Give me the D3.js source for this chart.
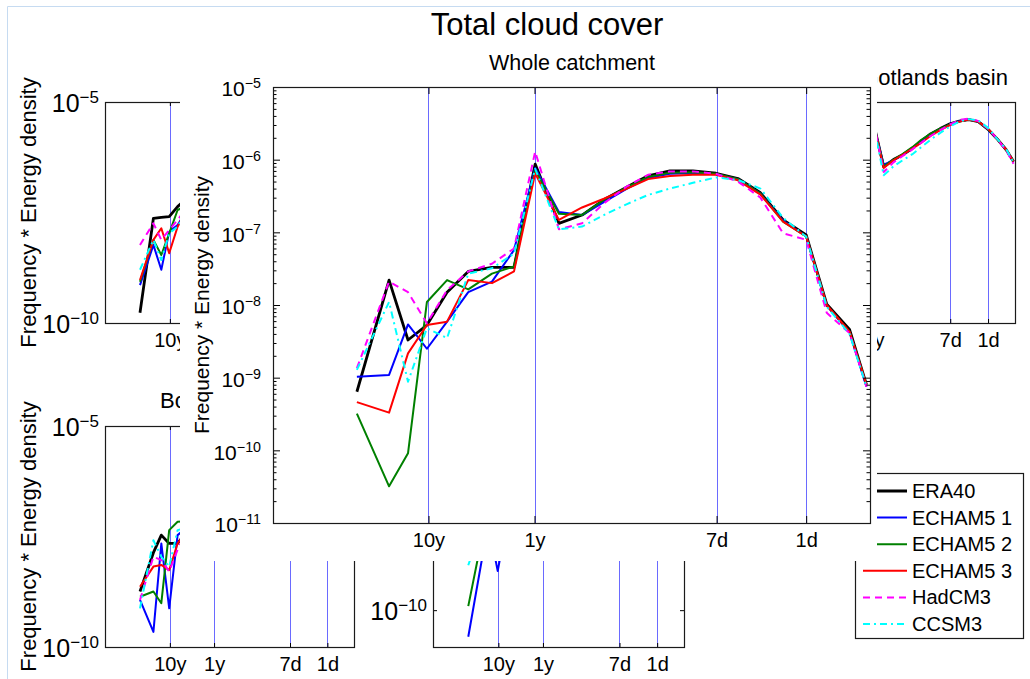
<!DOCTYPE html>
<html>
<head>
<meta charset="utf-8">
<script src="https://cdn.jsdelivr.net/npm/d3@7"></script>
<style>
  body { margin: 0; background: #fff; }
  svg { display: block; }
</style>
</head>
<body>
<div id="app"></div>
<script>
'use strict'

// ---- data -------------------------------------------------------------
const seriesNames = ['ERA40', 'ECHAM5 1', 'ECHAM5 2', 'ECHAM5 3', 'HadCM3', 'CCSM3']

// band periods in days (x axis is drawn as log period, long periods to the left)
const periods = [17300, 8600, 5700, 3780, 2440, 1540, 920, 570, 360, 215, 130, 81,
  49, 31, 19.3, 11.7, 7.1, 4.4, 2.7, 1.65, 1.0, 0.64, 0.39, 0.27]

const markPeriods = [3652.5, 365.25, 7, 1]
const markLabels = ['10y', '1y', '7d', '1d']

// Whole catchment, one row per series (same order as seriesNames)
const wholeCatchment = [
  [6.4e-10, 2.2e-8, 3.3e-9, 5.3e-9, 1.5e-8, 2.9e-8, 3.3e-8, 3.3e-8, 8.7e-7, 1.33e-7, 1.73e-7, 2.8e-7,
    4.2e-7, 6.0e-7, 7.0e-7, 7.0e-7, 6.5e-7, 5.5e-7, 3.5e-7, 1.48e-7, 9.2e-8, 1.03e-8, 4.6e-9, 8.0e-10],
  [1.03e-9, 1.09e-9, 5.4e-9, 2.5e-9, 5.9e-9, 1.5e-8, 2.1e-8, 5.7e-8, 7.7e-7, 1.9e-7, 1.73e-7, 2.6e-7,
    4.0e-7, 5.6e-7, 6.4e-7, 6.5e-7, 6.3e-7, 5.4e-7, 3.4e-7, 1.45e-7, 8.8e-8, 9.8e-9, 4.2e-9, 7.5e-10],
  [3.2e-10, 3.2e-11, 9.1e-11, 1.1e-8, 2.2e-8, 1.64e-8, 2.7e-8, 3.4e-8, 7.2e-7, 1.8e-7, 1.73e-7, 2.8e-7,
    4.2e-7, 5.8e-7, 6.6e-7, 6.7e-7, 6.4e-7, 5.4e-7, 3.4e-7, 1.4e-7, 8.8e-8, 9.8e-9, 4.3e-9, 8.0e-10],
  [4.6e-10, 3.3e-10, 2.16e-9, 5.3e-9, 5.9e-9, 2.2e-8, 2.0e-8, 2.9e-8, 6.5e-7, 1.48e-7, 2.2e-7, 2.9e-7,
    4.0e-7, 5.4e-7, 5.96e-7, 6.2e-7, 6.2e-7, 5.2e-7, 3.3e-7, 1.4e-7, 8.8e-8, 1.0e-8, 4.3e-9, 8.0e-10],
  [1.35e-9, 2.1e-8, 1.5e-8, 5.6e-9, 1.6e-8, 2.9e-8, 3.7e-8, 6.0e-8, 1.29e-6, 1.1e-7, 1.33e-7, 2.5e-7,
    4.3e-7, 6.2e-7, 6.9e-7, 6.9e-7, 6.4e-7, 5.0e-7, 3.0e-7, 9.7e-8, 7.9e-8, 7.8e-9, 4.1e-9, 7.5e-10],
  [1.28e-9, 1.1e-8, 8.8e-10, 4.8e-9, 3.5e-9, 2.7e-8, 3.2e-8, 5.1e-8, 7.5e-7, 1.1e-7, 1.2e-7, 1.73e-7,
    2.45e-7, 3.27e-7, 4.0e-7, 4.8e-7, 5.7e-7, 5.25e-7, 4.0e-7, 1.58e-7, 8.7e-8, 9.5e-9, 4.0e-9, 7.5e-10]
]

// background panels: only the uncovered bands are kept
const topLeftFirst = 0
const topLeft = [
  [1.7e-10, 2.34e-8, 2.45e-8, 2.54e-8, 4.3e-8, 6.5e-8],
  [7.2e-10, 5.8e-9, 1.6e-9, 1.16e-8, 1.65e-8, 3.5e-8],
  [8.6e-10, 7.6e-9, 3.45e-9, 1.07e-8, 3.6e-8, 4.5e-8],
  [9.4e-10, 7.6e-9, 1.39e-8, 3.8e-9, 1.51e-8, 3.5e-8],
  [5.8e-9, 1.8e-8, 7.6e-9, 1.27e-8, 2.14e-8, 4.0e-8],
  [1.6e-9, 7.6e-9, 2.66e-9, 1.07e-8, 1.51e-8, 3.5e-8]
]

const gotlandsFirst = 8
const gotlands = [
  [3.2e-6, 3.4e-7, 5.0e-7, 6.4e-7, 9.0e-7, 1.3e-6, 1.9e-6, 2.5e-6, 3.2e-6, 3.7e-6, 4.0e-6, 3.6e-6, 2.4e-6, 1.5e-6, 8.2e-7, 4.5e-7],
  [3.0e-6, 3.8e-7, 4.8e-7, 6.3e-7, 9.0e-7, 1.3e-6, 1.8e-6, 2.4e-6, 3.1e-6, 3.7e-6, 4.0e-6, 3.6e-6, 2.4e-6, 1.5e-6, 8.2e-7, 4.4e-7],
  [3.0e-6, 3.5e-7, 4.9e-7, 6.6e-7, 9.5e-7, 1.4e-6, 1.9e-6, 2.5e-6, 3.1e-6, 3.6e-6, 4.0e-6, 3.6e-6, 2.4e-6, 1.5e-6, 8.2e-7, 4.5e-7],
  [3.1e-6, 3.2e-7, 4.8e-7, 6.4e-7, 8.8e-7, 1.2e-6, 1.7e-6, 2.3e-6, 3.0e-6, 3.6e-6, 4.0e-6, 3.6e-6, 2.5e-6, 1.5e-6, 8.2e-7, 4.5e-7],
  [3.4e-6, 2.6e-7, 4.3e-7, 6.0e-7, 8.5e-7, 1.2e-6, 1.7e-6, 2.3e-6, 3.1e-6, 3.9e-6, 4.2e-6, 3.7e-6, 2.5e-6, 1.5e-6, 8.0e-7, 4.0e-7],
  [3.0e-6, 2.2e-7, 3.5e-7, 4.8e-7, 6.6e-7, 9.5e-7, 1.4e-6, 2.0e-6, 2.8e-6, 3.6e-6, 4.1e-6, 3.8e-6, 2.6e-6, 1.5e-6, 8.5e-7, 4.3e-7]
]

const bothnianFirst = 0
const bothnian = [
  [1.8e-9, 1.36e-8, 3.4e-8, 2.2e-8, 2.2e-8, 4.0e-8],
  [1.16e-9, 2.2e-10, 2.2e-8, 7.5e-10, 3.4e-8, 5.0e-8],
  [1.37e-9, 1.8e-9, 9.8e-10, 4.4e-8, 6.8e-8, 7.0e-8],
  [2.3e-9, 6.6e-9, 7.2e-9, 5.5e-9, 2.2e-8, 4.0e-8],
  [1.16e-9, 1.1e-8, 9.3e-9, 5.1e-9, 1.6e-8, 4.0e-8],
  [7.5e-10, 2.6e-8, 1.1e-8, 6.6e-9, 4.4e-8, 5.0e-8]
]

const bottomMidFirst = 0
const bottomMid = [
  [6.0e-9, 2.5e-8, 1.0e-8, 1.5e-8, 3.0e-8],
  [1.9e-11, 2.3e-9, 1.5e-8, 1.15e-9, 2.0e-8],
  [1.29e-10, 8.7e-9, 1.5e-8, 2.0e-8, 3.0e-8],
  [5.0e-9, 1.0e-8, 1.2e-8, 1.5e-8, 2.5e-8],
  [8.0e-9, 2.0e-8, 1.5e-8, 1.0e-8, 2.0e-8],
  [1.66e-9, 2.0e-8, 6.0e-9, 1.0e-8, 2.0e-8]
]

// ---- styles -----------------------------------------------------------
const font = '"Liberation Sans", Arial, Helvetica, sans-serif'
const markColor = '#6a6aff'
const seriesStyle = [
  { color: '#000000', width: 2.8, dash: null },
  { color: '#0000ff', width: 2, dash: null },
  { color: '#008000', width: 2, dash: null },
  { color: '#ff0000', width: 2, dash: null },
  { color: '#ff00ff', width: 2, dash: '7,5' },
  { color: '#00ffff', width: 2, dash: '7,4,2,4' }
]
const periodDomain = [1.07e5, 0.25]

const svg = d3.select('#app').append('svg')
  .attr('width', 1030)
  .attr('height', 679)
  .style('font-family', font)

// window frame
svg.append('path')
  .attr('d', 'M7.5,679V6.5H1030')
  .attr('fill', 'none')
  .attr('stroke', '#c6dbf1')

let clipId = 0

/*
 * One MATLAB-like axes: white box, blue marker lines, the six spectra,
 * log axes with "10^n" labels.
 */
function drawPanel (box, yDomain, yTicks, data, first, opt) {
  const x = d3.scaleLog().domain(periodDomain).range([box.left, box.right])
  const y = d3.scaleLog().domain(yDomain).range([box.bottom, box.top])
  const g = svg.append('g')
  const w = box.right - box.left
  const h = box.bottom - box.top

  g.append('rect')
    .attr('x', box.left).attr('y', box.top)
    .attr('width', w).attr('height', h)
    .attr('fill', '#fff')

  const id = 'clip' + (clipId++)
  g.append('clipPath').attr('id', id)
    .append('rect')
    .attr('x', box.left).attr('y', box.top)
    .attr('width', w).attr('height', h)

  g.selectAll('.mark')
    .data(markPeriods)
    .join('line')
    .attr('class', 'mark')
    .attr('x1', d => Math.round(x(d)) + 0.5)
    .attr('x2', d => Math.round(x(d)) + 0.5)
    .attr('y1', box.top)
    .attr('y2', box.bottom)
    .attr('stroke', markColor)
    .attr('stroke-width', 1)

  const line = d3.line()
    .x((d, i) => x(periods[first + i]))
    .y(d => y(d))

  g.append('g')
    .attr('clip-path', `url(#${id})`)
    .selectAll('path')
    .data(data)
    .join('path')
    .attr('d', line)
    .attr('fill', 'none')
    .attr('stroke', (d, i) => seriesStyle[i].color)
    .attr('stroke-width', (d, i) => seriesStyle[i].width)
    .attr('stroke-dasharray', (d, i) => seriesStyle[i].dash)
    .attr('stroke-linejoin', 'round')

  // x axis (bottom with labels, top ticks only)
  g.append('g')
    .attr('transform', `translate(0,${box.bottom})`)
    .call(d3.axisBottom(x).tickValues(markPeriods)
      .tickFormat((d, i) => markLabels[i])
      .tickSizeInner(-opt.tick).tickSizeOuter(0).tickPadding(opt.xPad))
    .call(s => s.select('.domain').remove())
    .attr('font-family', font)
    .attr('font-size', opt.xFont)
    .selectAll('text').attr('fill', '#000')

  g.append('g')
    .attr('transform', `translate(0,${box.top})`)
    .call(d3.axisTop(x).tickValues(markPeriods).tickFormat('')
      .tickSizeInner(-opt.tick).tickSizeOuter(0))
    .call(s => s.select('.domain').remove())

  // y axis: decades with labels, optional minor ticks
  const yl = g.append('g')
    .attr('transform', `translate(${box.left},0)`)
    .call(d3.axisLeft(y).tickValues(yTicks)
      .tickSizeInner(-opt.tick).tickSizeOuter(0).tickPadding(opt.yPad))
    .call(s => s.select('.domain').remove())
    .attr('font-family', font)
    .attr('font-size', opt.yFont)

  yl.selectAll('.tick text').each(function (d) {
    const t = d3.select(this).text(null).attr('fill', '#000').attr('dy', opt.yDy)
    t.append('tspan').text('10')
    t.append('tspan')
      .attr('dy', '-0.55em')
      .attr('font-size', '0.68em')
      .text('\u2212' + Math.round(-Math.log10(d)))
  })

  g.append('g')
    .attr('transform', `translate(${box.right},0)`)
    .call(d3.axisRight(y).tickValues(yTicks).tickFormat('')
      .tickSizeInner(-opt.tick).tickSizeOuter(0))
    .call(s => s.select('.domain').remove())

  if (opt.minor) {
    const lo = Math.round(Math.log10(yDomain[0]))
    const hi = Math.round(Math.log10(yDomain[1]))
    const minor = []
    for (let e = lo; e < hi; e++) {
      for (let m = 2; m <= 9; m++) minor.push(m * Math.pow(10, e))
    }
    g.append('g')
      .attr('transform', `translate(${box.left},0)`)
      .call(d3.axisLeft(y).tickValues(minor).tickFormat('')
        .tickSizeInner(-opt.tick / 2).tickSizeOuter(0))
      .call(s => s.select('.domain').remove())
    g.append('g')
      .attr('transform', `translate(${box.right},0)`)
      .call(d3.axisRight(y).tickValues(minor).tickFormat('')
        .tickSizeInner(-opt.tick / 2).tickSizeOuter(0))
      .call(s => s.select('.domain').remove())
  }

  // axes box
  g.append('rect')
    .attr('x', box.left + 0.5).attr('y', box.top + 0.5)
    .attr('width', w).attr('height', h)
    .attr('fill', 'none')
    .attr('stroke', '#1a1a1a')
    .attr('stroke-width', 1.2)

  if (opt.ylabel) {
    g.append('text')
      .attr('transform', `translate(${opt.ylabel.x},${(box.top + box.bottom) / 2}) rotate(-90)`)
      .attr('text-anchor', 'middle')
      .attr('font-size', opt.ylabel.size)
      .text('Frequency * Energy density')
  }
  if (opt.title) {
    // the title is cut where the main axes covers it
    const tg = g.append('g')
    if (opt.title.clip) {
      const tid = 'clip' + (clipId++)
      tg.append('clipPath').attr('id', tid)
        .append('rect')
        .attr('x', opt.title.clip[0]).attr('y', opt.title.y - 30)
        .attr('width', opt.title.clip[1] - opt.title.clip[0]).attr('height', 40)
      tg.attr('clip-path', `url(#${tid})`)
    }
    tg.append('text')
      .attr('x', opt.title.x).attr('y', opt.title.y)
      .attr('text-anchor', opt.title.anchor)
      .attr('font-size', opt.title.size)
      .text(opt.title.text)
  }
  return g
}

const smallOpt = { tick: 4, xPad: 10, xFont: 20, yPad: 6, yFont: 25, yDy: '0.38em', minor: false }

// ---- background sub-panels --------------------------------------------
drawPanel({ left: 105, right: 354, top: 102, bottom: 323 }, [1e-10, 1e-5], [1e-10, 1e-5],
  topLeft, topLeftFirst,
  Object.assign({}, smallOpt, { ylabel: { x: 36, size: 22 } }))

drawPanel({ left: 763, right: 1015, top: 102, bottom: 323 }, [1e-10, 1e-5], [1e-10, 1e-5],
  gotlands, gotlandsFirst,
  Object.assign({}, smallOpt, {
    title: { text: 'Gotlands basin', x: 1008, y: 85, anchor: 'end', size: 22, clip: [877, 1030] }
  }))

drawPanel({ left: 105, right: 354, top: 426, bottom: 647 }, [1e-10, 1e-5], [1e-10, 1e-5],
  bothnian, bothnianFirst,
  Object.assign({}, smallOpt, {
    ylabel: { x: 36, size: 22 },
    title: { text: 'Bothnian Bay', x: 160, y: 408, anchor: 'start', size: 22, clip: [100, 180] }
  }))

drawPanel({ left: 433, right: 684, top: 426, bottom: 647 }, [1e-11, 1e-5], [1e-10, 1e-5],
  bottomMid, bottomMidFirst, smallOpt)

// legend (belongs to the background figure, partly hidden)
const legend = svg.append('g')
legend.append('rect')
  .attr('x', 855.5).attr('y', 473.5)
  .attr('width', 168).attr('height', 165)
  .attr('fill', '#fff')
  .attr('stroke', '#1a1a1a')
  .attr('stroke-width', 1.2)
const legendRow = d3.scaleLinear().domain([0, 5]).range([491, 624])
const entries = legend.selectAll('.entry')
  .data(seriesNames)
  .join('g')
  .attr('transform', (d, i) => `translate(0,${legendRow(i)})`)
entries.append('line')
  .attr('x1', 863).attr('x2', 907)
  .attr('stroke', (d, i) => seriesStyle[i].color)
  .attr('stroke-width', (d, i) => seriesStyle[i].width)
  .attr('stroke-dasharray', (d, i) => seriesStyle[i].dash)
entries.append('text')
  .attr('x', 912)
  .attr('dy', '0.35em')
  .attr('font-size', 20)
  .text(d => d)

// ---- the main axes lies on top and hides the middle of the figure ------
svg.append('rect')
  .attr('x', 180).attr('y', 45)
  .attr('width', 697).attr('height', 516)
  .attr('fill', '#fff')

drawPanel({ left: 273, right: 870, top: 87, bottom: 523 }, [1e-11, 1e-5],
  d3.range(-11, -4).map(e => Math.pow(10, e)),
  wholeCatchment, 0,
  {
    tick: 7, xPad: 10, xFont: 20, yPad: 12, yFont: 21, yDy: '0.42em', minor: true,
    ylabel: { x: 209, size: 21 },
    title: { text: 'Whole catchment', x: 572, y: 70, anchor: 'middle', size: 21.5 }
  })

svg.append('text')
  .attr('x', 547)
  .attr('y', 35)
  .attr('text-anchor', 'middle')
  .attr('font-size', 31)
  .text('Total cloud cover')
</script>
</body>
</html>
